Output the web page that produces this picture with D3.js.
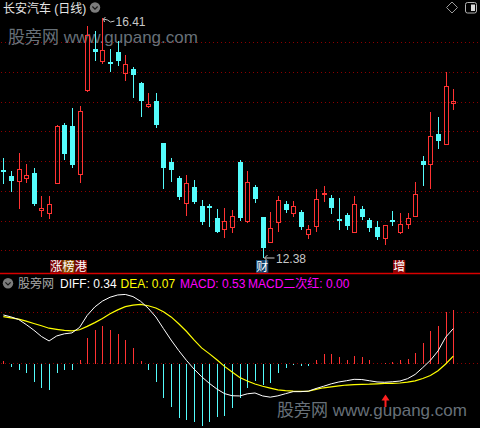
<!DOCTYPE html>
<html><head><meta charset="utf-8">
<script src="https://cdn.jsdelivr.net/npm/d3@7"></script>
<style>
html,body{margin:0;padding:0;background:#000;}
svg{display:block;}
text{font-family:"Liberation Sans","Noto Sans CJK SC",sans-serif;}
</style></head><body>
<svg id="c" width="480" height="428"></svg>
<script>
// ---------- data ----------
const title = "长安汽车 (日线)";
const openP  = [13.85,13.75,13.66,13.71,13.80,13.17,13.12,13.64,14.61,14.59,13.78,15.19,15.89,15.69,15.67,15.83,15.49,15.55,15.31,14.93,
                15.01,14.31,13.99,13.72,13.29,13.57,13.25,13.25,13.04,12.86,12.90,13.99,13.00,13.57,13.06,12.64,12.98,13.28,13.12,13.15,
                12.78,12.91,13.44,13.38,13.02,13.09,12.81,13.19,13.01,12.89,12.70,13.01,12.81,12.95,13.07,14.01,13.96,14.46,14.29,14.98];
const highP  = [14.05,13.83,14.14,13.95,13.88,13.41,13.41,14.61,14.65,14.89,14.93,16.27,16.19,16.41,15.89,16.02,15.79,15.59,15.34,15.15,
                15.15,14.31,14.05,13.75,13.77,13.68,13.35,13.28,13.19,13.22,13.18,14.02,13.84,13.60,13.06,13.15,13.41,13.33,13.33,13.17,
                12.92,13.53,13.58,13.43,13.38,13.13,13.41,13.25,13.04,13.00,12.93,13.16,13.12,13.13,13.65,14.09,14.82,14.74,15.50,15.21];
const lowP   = [13.64,13.50,13.22,13.65,13.26,13.08,13.05,13.63,14.04,13.91,13.65,15.18,15.70,15.66,15.51,15.62,15.37,15.08,14.76,14.91,
                14.58,13.54,13.67,13.36,13.09,13.29,12.95,12.91,12.81,12.73,12.81,13.01,12.97,13.32,12.38,12.64,12.82,13.14,13.08,12.86,
                12.71,12.82,13.33,13.13,12.86,12.86,12.80,13.03,12.83,12.69,12.61,12.93,12.79,12.88,13.07,13.60,13.55,14.22,14.29,14.88];
const closeP = [13.84,13.67,13.86,13.76,13.28,13.22,13.28,14.60,14.12,13.94,14.84,16.12,15.84,15.87,15.65,15.69,15.63,15.45,15.01,14.96,
                14.61,13.89,13.85,13.39,13.63,13.31,12.97,13.21,12.81,13.00,13.08,13.05,13.65,13.36,12.54,12.87,13.34,13.18,13.24,12.90,
                12.86,13.36,13.47,13.22,12.99,12.91,13.28,13.06,12.88,12.73,12.92,12.98,12.94,13.05,13.45,13.94,14.42,14.34,15.26,15.01];
const priceGrid = [12.5,13.0,13.5,14.0,14.5,15.0,15.5,16.0];
const highMark = {i:13, label:"16.41"};
const lowMark  = {i:34, label:"12.38"};
const signals = [
  {i:7,  chars:["涨","榜","港"], bg:["#7d0606","#8a4a00","#7d0606"]},
  {i:34, chars:["财"], bg:["#12446e"]},
  {i:52, chars:["增"], bg:["#8a0505"]}
];

const diff = [0.474,0.455,0.430,0.380,0.325,0.263,0.219,0.268,0.289,0.298,0.352,0.470,0.553,0.610,0.648,0.670,0.675,0.654,0.608,0.540,
              0.454,0.340,0.228,0.125,0.030,-0.056,-0.131,-0.196,-0.252,-0.297,-0.318,-0.320,-0.299,-0.291,-0.320,-0.332,-0.319,-0.298,-0.278,-0.278,
              -0.273,-0.247,-0.225,-0.201,-0.183,-0.171,-0.157,-0.159,-0.171,-0.183,-0.186,-0.181,-0.174,-0.151,-0.109,-0.042,0.029,0.121,0.256,0.340];
const dea  = [0.457,0.445,0.433,0.413,0.390,0.368,0.344,0.333,0.323,0.318,0.329,0.362,0.399,0.440,0.486,0.524,0.556,0.570,0.577,0.564,
              0.542,0.505,0.455,0.388,0.314,0.229,0.151,0.095,0.035,-0.030,-0.085,-0.139,-0.173,-0.203,-0.225,-0.243,-0.260,-0.267,-0.272,-0.275,
              -0.274,-0.255,-0.240,-0.231,-0.221,-0.213,-0.209,-0.206,-0.205,-0.201,-0.197,-0.196,-0.193,-0.185,-0.172,-0.149,-0.120,-0.072,-0.007,0.070];
const macd = [0.033,-0.023,-0.056,-0.081,-0.170,-0.230,-0.250,-0.090,-0.056,-0.056,0.042,0.260,0.340,0.375,0.340,0.300,0.240,0.160,0.036,-0.056,
              -0.170,-0.330,-0.420,-0.530,-0.550,-0.570,-0.600,-0.570,-0.520,-0.510,-0.430,-0.330,-0.230,-0.160,-0.200,-0.180,-0.090,-0.040,-0.003,-0.017,
              -0.013,0.046,0.105,0.105,0.072,0.042,0.081,0.072,0.042,0.003,0.013,0.023,0.039,0.049,0.115,0.210,0.330,0.375,0.510,0.530];
const macdGrid = [0, 0.5];
const macdLegend = [
  {t:"DIFF: 0.34", c:"#ffffff", x:60},
  {t:"DEA: 0.07", c:"#ffff00", x:120.5},
  {t:"MACD: 0.53", c:"#ff00ff", x:180},
  {t:"MACD二次红: 0.00", c:"#ff00ff", x:248}
];
const arrowIndex = 50;
const watermark = "股旁网 www.gupang.com";

// ---------- styles ----------
const RED = "#ff3232", CYAN = "#54fcfc", GRID = "#8c0000";

const svg = d3.select("#c");
svg.append("rect").attr("width",480).attr("height",428).attr("fill","#000");

const n = openP.length;
const x = d3.scaleBand().domain(d3.range(n)).range([-0.5, 457.1]).padding(0);
const xc = i => Math.round(x(i) + x.bandwidth()/2) + 0.5;
const y = d3.scaleLinear().domain([12.5, 16]).range([250.3, 42.3]);
const ym = d3.scaleLinear().domain([0, 0.5]).range([363.3, 312.3]);

// grid lines
const gridG = svg.append("g").attr("shape-rendering","crispEdges");
gridG.selectAll("line.pg").data(priceGrid).join("line")
  .attr("x1",1).attr("x2",480)
  .attr("y1",d=>Math.round(y(d))+0.5).attr("y2",d=>Math.round(y(d))+0.5)
  .attr("stroke",GRID).attr("stroke-dasharray","1,3");
gridG.selectAll("line.mg").data(macdGrid).join("line")
  .attr("x1",1).attr("x2",480)
  .attr("y1",d=>Math.round(ym(d))+0.5).attr("y2",d=>Math.round(ym(d))+0.5)
  .attr("stroke",GRID).attr("stroke-dasharray","1,3");

// watermarks
svg.append("text").attr("x",8).attr("y",43).attr("font-size",17).attr("fill","#7a848e").attr("opacity",0.85).text(watermark);

// candles
const cg = svg.append("g").attr("shape-rendering","crispEdges");
cg.selectAll("g").data(d3.range(n)).join("g").each(function(i){
  const s = d3.select(this);
  const up = closeP[i] >= openP[i];
  const cx = xc(i);
  const yH = Math.round(y(highP[i])), yL = Math.round(y(lowP[i]));
  const yT = Math.round(y(Math.max(openP[i],closeP[i])));
  let yB = Math.round(y(Math.min(openP[i],closeP[i])));
  if (up) {
    if (yB - yT < 1) yB = yT + 1;
    if (yH < yT) s.append("line").attr("x1",cx).attr("x2",cx).attr("y1",yH).attr("y2",yT).attr("stroke",RED);
    if (yL > yB) s.append("line").attr("x1",cx).attr("x2",cx).attr("y1",yB).attr("y2",yL+1).attr("stroke",RED);
    s.append("rect").attr("x",cx-2).attr("y",yT+0.5).attr("width",4).attr("height",yB-yT)
      .attr("fill","none").attr("stroke",RED);
  } else {
    s.append("line").attr("x1",cx).attr("x2",cx).attr("y1",yH).attr("y2",yL+1).attr("stroke",CYAN);
    s.append("rect").attr("x",cx-2.5).attr("y",yT).attr("width",5).attr("height",Math.max(1.5,yB-yT))
      .attr("fill",CYAN);
  }
});

// high / low markers
const labCol = "#c8c8c8";
{
  const hx = xc(highMark.i), hy = Math.round(y(highP[highMark.i]));
  svg.append("path").attr("d",`M${hx+1},${hy+1} L${hx+5},${hy+2} L${hx+8},${hy+4} L${hx+12},${hy+3}`)
    .attr("fill","none").attr("stroke",labCol);
  svg.append("path").attr("d",`M${hx+1},${hy+1} L${hx+3},${hy-1} M${hx+1},${hy+1} L${hx+2},${hy+4}`)
    .attr("fill","none").attr("stroke",labCol);
  svg.append("text").attr("x",hx+13).attr("y",hy+8).attr("font-size",12).attr("fill",labCol).text(highMark.label);
  const lx = xc(lowMark.i), ly = Math.round(y(lowP[lowMark.i]))+1;
  svg.append("path").attr("d",`M${lx+1},${ly} L${lx+11},${ly} M${lx+1},${ly} L${lx+4},${ly-3} M${lx+1},${ly} L${lx+4},${ly+3}`)
    .attr("fill","none").attr("stroke",labCol);
  svg.append("text").attr("x",lx+12.5).attr("y",ly+5).attr("font-size",12).attr("fill",labCol).text(lowMark.label);
}

// signal labels
signals.forEach(sg=>{
  const x0 = xc(sg.i) - 7.5;
  sg.chars.forEach((ch,k)=>{
    svg.append("rect").attr("x",x0+k*12.3).attr("y",260).attr("width",12.3).attr("height",13).attr("fill",sg.bg[k]);
    svg.append("text").attr("x",x0+k*12.3+6.15).attr("y",271).attr("text-anchor","middle")
      .attr("font-size",12).attr("fill","#ffffff").text(ch);
  });
});

// separator
svg.append("line").attr("x1",0).attr("x2",480).attr("y1",273.5).attr("y2",273.5).attr("stroke","#d80000").attr("stroke-width",1.5);

// title bar
svg.append("text").attr("x",3).attr("y",13).attr("font-size",12).attr("fill","#e6e6e6").text(title);
function chevIcon(cx,cy){
  svg.append("circle").attr("cx",cx).attr("cy",cy).attr("r",5.2).attr("fill","#7c7c7c");
  svg.append("path").attr("d",`M${cx-2.6},${cy-1} L${cx},${cy+1.6} L${cx+2.6},${cy-1}`).attr("fill","none").attr("stroke","#1a1a1a").attr("stroke-width",1.2);
}
chevIcon(95,7.5);
svg.append("path").attr("d","M452,2 L457.5,7.5 L452,13 L446.5,7.5 Z").attr("fill","none").attr("stroke","#9a9a9a");
svg.append("rect").attr("x",465.5).attr("y",2.5).attr("width",11).attr("height",10.5).attr("rx",2).attr("fill","none").attr("stroke","#b4b4b4");
svg.append("rect").attr("x",471).attr("y",4.5).attr("width",4).attr("height",6.5).attr("fill","#d8d8d8");

// MACD header
chevIcon(8,283.3);
svg.append("text").attr("x",18).attr("y",288).attr("font-size",12).attr("fill","#a8a8a8").text("股旁网");
svg.selectAll("text.lg").data(macdLegend).join("text")
  .attr("x",d=>d.x).attr("y",288).attr("font-size",12).attr("fill",d=>d.c).text(d=>d.t);

// MACD bars
const mg = svg.append("g").attr("shape-rendering","crispEdges");
const y0 = Math.round(ym(0));
mg.selectAll("line").data(macd).join("line")
  .attr("x1",(d,i)=>xc(i)).attr("x2",(d,i)=>xc(i))
  .attr("y1",y0+0.5).attr("y2",d=>Math.round(ym(d))+0.5)
  .attr("stroke",d=>d>=0?RED:CYAN);

// DIFF / DEA
const line = d3.line().x((d,i)=>x(i)+x.bandwidth()/2).y(d=>ym(d));
svg.append("path").datum(dea).attr("d",line).attr("fill","none").attr("stroke","#ffff00").attr("stroke-width",1.2);
svg.append("path").datum(diff).attr("d",line).attr("fill","none").attr("stroke","#ffffff").attr("stroke-width",1);

// red signal arrow
{
  const ax = xc(arrowIndex);
  svg.append("path").attr("d",`M${ax},394.5 L${ax-4},400.5 L${ax+4},400.5 Z`).attr("fill","#ff2020");
  svg.append("rect").attr("x",ax-1).attr("y",400).attr("width",2).attr("height",7).attr("fill","#ff2020");
}

svg.append("text").attr("x",277).attr("y",416).attr("font-size",17).attr("fill","#7a848e").attr("opacity",0.85).text(watermark);
</script>
</body></html>
